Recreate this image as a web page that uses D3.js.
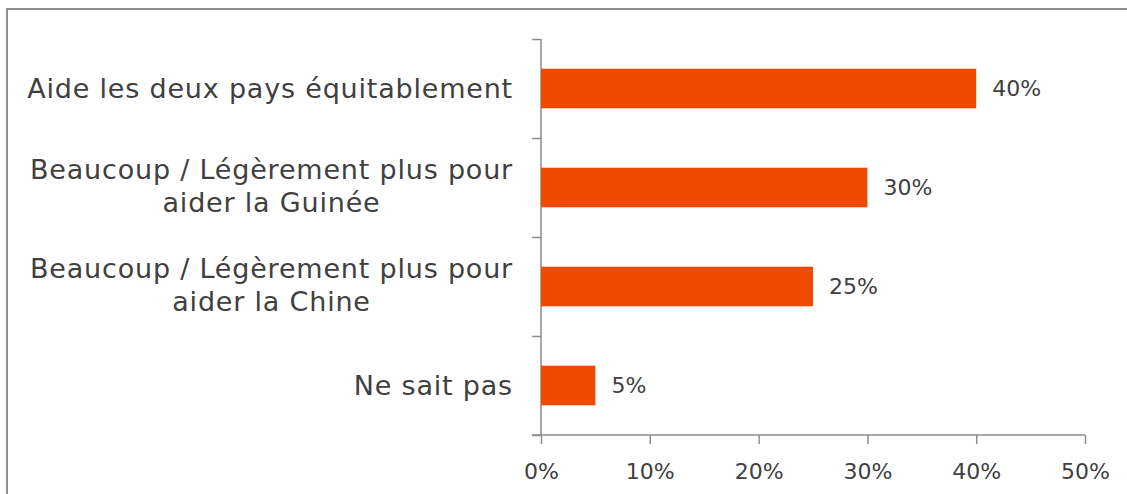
<!DOCTYPE html>
<meta charset="utf-8">
<style>
body { margin: 0; background: #fff; }
text { font-family: "DejaVu Sans", sans-serif; fill: #404040; }
.axis path, .axis line { stroke: #8c8c8c; stroke-width: 1.5px; }
</style>
<svg width="1127" height="494"></svg>
<script src="https://d3js.org/d3.v7.min.js"></script>
<script>

var categories = [
  ["Aide les deux pays équitablement"],
  ["Beaucoup / Légèrement plus pour", "aider la Guinée"],
  ["Beaucoup / Légèrement plus pour", "aider la Chine"],
  ["Ne sait pas"]
];
var values = [40, 30, 25, 5];
var ticks = [0, 10, 20, 30, 40, 50];

var svg = d3.select("svg");

// outer frame (cut off on the right and bottom)
svg.append("rect")
    .attr("x", 7).attr("y", 9)
    .attr("width", 1140).attr("height", 500)
    .attr("fill", "none")
    .attr("stroke", "#909090")
    .attr("stroke-width", 2);

var margin = {left: 541, top: 39},
    w = 1085 - 541,
    h = 435 - 39;

var x = d3.scaleLinear().domain([0, 50]).range([0, w]);
var y = d3.scaleBand().domain(d3.range(categories.length)).range([0, h]).paddingInner(0.6).paddingOuter(0.3);

var g = svg.append("g").attr("transform", "translate(" + margin.left + "," + margin.top + ")");

// x axis
var xa = g.append("g").attr("class", "axis")
    .attr("transform", "translate(0," + h + ")")
    .call(d3.axisBottom(x).tickValues(ticks).tickSize(9).tickSizeOuter(0).tickFormat(function(d) { return d + "%"; }));
xa.select(".domain").attr("d", "M-9,0H" + w);
xa.selectAll("text").attr("dy", null).attr("y", 44).style("font-size", "22px").attr("font-family", null);

// y axis: ticks at band boundaries
var yb = d3.scaleLinear().domain([0, categories.length]).range([0, h]);
var ya = g.append("g").attr("class", "axis")
    .call(d3.axisLeft(yb).ticks(categories.length).tickSize(9).tickSizeOuter(0).tickFormat(""));
ya.select(".domain").attr("d", "M0,0V" + h);

g.selectAll(".bar")
    .data(values)
  .enter().append("rect")
    .attr("class", "bar")
    .attr("x", 0)
    .attr("y", function(d, i) { return y(i); })
    .attr("width", function(d) { return x(d); })
    .attr("height", y.bandwidth())
    .attr("fill", "#f04a00");

g.selectAll(".val")
    .data(values)
  .enter().append("text")
    .attr("class", "val")
    .attr("x", function(d) { return x(d) + 16; })
    .attr("y", function(d, i) { return y(i) + y.bandwidth() / 2; })
    .attr("dy", "0.36em")
    .style("font-size", "22px")
    .text(function(d) { return d + "%"; });

// category labels: block right-aligned to the axis, lines centred within the block
var lab = g.selectAll(".lab")
    .data(categories)
  .enter().append("text")
    .attr("class", "lab")
    .attr("text-anchor", "end")
    .style("font-size", "27px")
    .style("letter-spacing", "0.8px")
    .attr("y", function(d, i) { return y(i) + y.bandwidth() / 2; });

lab.each(function(d) {
  var t = d3.select(this);
  if (d.length === 1) {
    t.append("tspan").attr("x", -28).attr("dy", "0.36em").text(d[0]);
    return;
  }
  t.attr("text-anchor", "middle");
  var first = t.append("tspan").attr("dy", -9).text(d[0]);
  var cx = -28 - first.node().getComputedTextLength() / 2;
  first.attr("x", cx);
  t.append("tspan").attr("x", cx).attr("dy", 33).text(d[1]);
});

</script>
